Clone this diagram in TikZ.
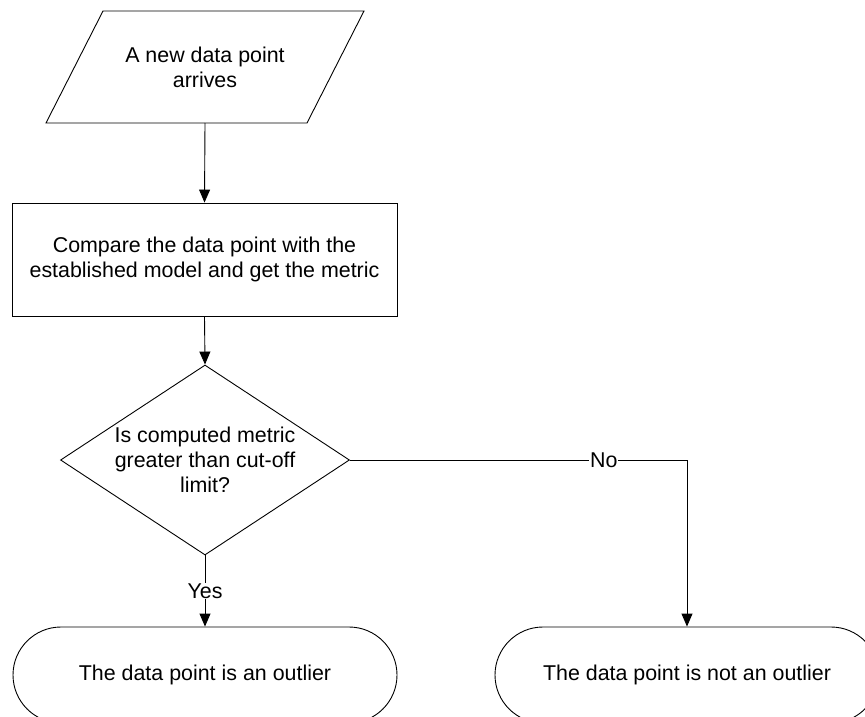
\documentclass[tikz,border=0pt]{standalone}
\usepackage{fontspec}
\setmainfont{Liberation Sans}
\usetikzlibrary{arrows.meta,shapes.geometric}
\begin{document}
\begin{tikzpicture}[x=1pt,y=-1pt,
  every node/.style={font=\fontsize{21.4}{25}\selectfont, align=center},
  line/.style={draw=black, line width=0.9pt},
  arr/.style={line, -{Triangle[length=13pt,width=11pt]}},
  procbox/.style={line, rectangle, minimum width=385pt, minimum height=113pt, inner sep=0pt},
  decbox/.style={line, diamond, minimum width=289pt, minimum height=190pt, inner sep=0pt},
  termbox/.style={line, rectangle, rounded corners=48pt, minimum width=384pt, minimum height=96pt, inner sep=0pt},
  lbl/.style={fill=white, inner sep=1pt}
]
\useasboundingbox (0,0) rectangle (865,717);
\clip (0,0) rectangle (865,717);

% input (parallelogram)
\draw[line] (103,11) -- (364,11) -- (307,123) -- (46,123) -- cycle;
\node (in) at (205,67) {A new data point\\arrives};
\coordinate (inb) at (205,123);

% process
\node[procbox] (cmp) at (204.5,259.5) {Compare the data point with the\\established model and get the metric};

% decision
\node[decbox] (dec) at (205,460) {};
\node (dectext) at (205,460) {Is computed metric\\greater than cut-off\\limit?};

% terminators
\node[termbox] (out) at (205,675) {The data point is an outlier};
\node[termbox] (notout) at (687,675) {The data point is not an outlier};

% connectors
\draw[arr] (inb) -- (cmp.north);
\draw[arr] (cmp.south) -- (dec.north);
\draw[arr] (dec.south) -- node[lbl] {Yes} (out.north);
\draw[arr] (dec.east) -| node[lbl, pos=0.3765] {No} (notout.north);
\end{tikzpicture}
\end{document}
